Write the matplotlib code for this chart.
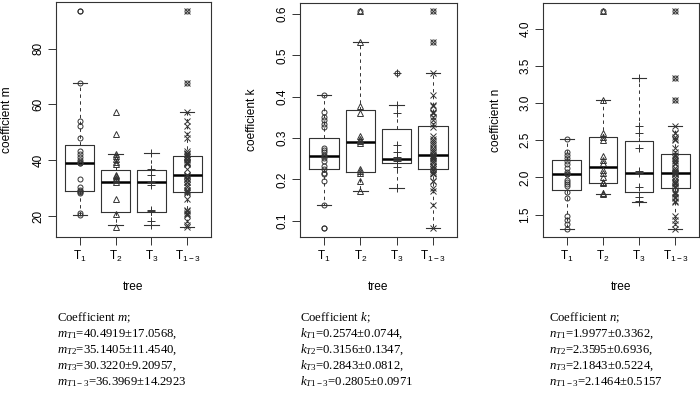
import numpy as np
import matplotlib
matplotlib.use('Agg')
import matplotlib.pyplot as plt

plt.rcParams['font.family'] = ['Liberation Sans', 'DejaVu Sans']
plt.rcParams['mathtext.fontset'] = 'custom'
plt.rcParams['mathtext.rm'] = 'Liberation Serif'
plt.rcParams['mathtext.it'] = 'Liberation Serif:italic'

# trees and their tick labels
tick_labels = [r'$\mathregular{T_1}$', r'$\mathregular{T_2}$', r'$\mathregular{T_3}$', r'$\mathregular{T_{1-3}}$']
sub_labels = [r'T\mathrm{1}', r'T\mathrm{2}', r'T\mathrm{3}', r'T\mathrm{1-3}']

# coefficient m, per tree (T1-3 is all three pooled)
m_T1 = [93.6, 67.6, 54.0, 52.2, 47.9, 43.3, 42.3, 41.3, 40.1, 39.2, 39.0, 38.9,
        33.3, 30.3, 29.2, 29.0, 28.7, 28.4, 21.0, 20.4]
m_T2 = [57.2, 49.5, 42.1, 41.5, 40.5, 39.5, 38.6, 34.7, 34.2, 33.8, 33.4, 32.3,
        26.2, 20.6, 16.2]
m_T3 = [42.5, 36.8, 34.7, 32.3, 31.1, 22.2, 21.7, 18.3, 16.9]
# box statistics as drawn
m_lo = [20.4, 16.6, 16.9, 16.0]
m_q1 = [29.1, 21.6, 21.6, 28.7]
m_med = [39.1, 32.3, 32.3, 34.7]
m_q3 = [45.3, 36.6, 36.6, 41.6]
m_hi = [67.6, 42.1, 42.5, 57.2]
m_out = [[93.6], [], [], [93.6, 67.6]]

# coefficient k
k_T1 = [0.405, 0.362, 0.352, 0.343, 0.334, 0.326, 0.275, 0.270, 0.265, 0.260,
        0.256, 0.252, 0.245, 0.233, 0.226, 0.216, 0.212, 0.196, 0.137, 0.082]
k_T2 = [0.608, 0.533, 0.378, 0.360, 0.305, 0.298, 0.292, 0.287, 0.224, 0.220,
        0.216, 0.196, 0.172]
k_T3 = [0.457, 0.379, 0.361, 0.283, 0.267, 0.255, 0.249, 0.245, 0.239, 0.231, 0.180]
k_lo = [0.137, 0.172, 0.180, 0.082]
k_q1 = [0.225, 0.2185, 0.239, 0.226]
k_med = [0.2565, 0.2906, 0.2485, 0.259]
k_q3 = [0.300, 0.367, 0.321, 0.329]
k_hi = [0.405, 0.533, 0.379, 0.457]
k_out = [[0.082], [0.608], [0.457], [0.608, 0.533]]

# coefficient n
n_T1 = [2.513, 2.347, 2.30, 2.26, 2.22, 2.18, 2.124, 2.08, 2.05, 2.045, 1.966,
        1.94, 1.91, 1.88, 1.809, 1.72, 1.483, 1.429, 1.37, 1.312]
n_T2 = [4.242, 3.042, 2.602, 2.55, 2.51, 2.289, 2.235, 2.19, 2.10, 2.06, 2.01,
        1.944, 1.92, 1.796, 1.775]
n_T3 = [3.341, 2.692, 2.602, 2.392, 2.091, 2.06, 1.876, 1.742, 1.684, 1.667]
n_lo = [1.312, 1.775, 1.667, 1.312]
n_q1 = [1.832, 1.922, 1.80, 1.863]
n_med = [2.047, 2.137, 2.065, 2.065]
n_q3 = [2.235, 2.548, 2.495, 2.312]
n_hi = [2.513, 3.042, 3.341, 2.696]
n_out = [[], [4.242], [], [4.242, 3.341, 3.042]]

# mean +- sd printed under each panel
m_mean = ['40.4919', '35.1405', '30.3220', '36.3969']
m_sd = ['17.0568', '11.4540', '9.20957', '14.2923']
k_mean = ['0.2574', '0.3156', '0.2843', '0.2805']
k_sd = ['0.0744', '0.1347', '0.0812', '0.0971']
n_mean = ['1.9977', '2.3595', '2.1843', '2.1464']
n_sd = ['0.3362', '0.6936', '0.5224', '0.5157']

dark = '#333333'
markers = [('o', 3.6), ('^', 4.5), ('+', 5.5), ('x', 3.8)]

W, H = 700.0, 397.0


def px_rect(x0, y0, x1, y1):
    return [x0 / W, 1 - y1 / H, (x1 - x0) / W, (y1 - y0) / H]


def draw_panel(ax, groups, lo, q1, med, q3, hi, out, ylim, ylabel, ylab_x):
    samples = groups + [sum(groups, [])]
    stats = []
    for i in range(4):
        stats.append(dict(whislo=lo[i], q1=q1[i], med=med[i], q3=q3[i],
                          whishi=hi[i], fliers=out[i]))
    ax.bxp(stats, positions=[1, 2, 3, 4], widths=0.8, capwidths=0.4,
           boxprops=dict(color=dark, lw=0.8),
           medianprops=dict(color='black', lw=1.8),
           whiskerprops=dict(color=dark, lw=0.7, ls=(0, (3.5, 3.5))),
           capprops=dict(color=dark, lw=0.8),
           flierprops=dict(marker='o', mfc='none', mec=dark, ms=3.6, mew=0.7))
    for i, vals in enumerate(samples):
        mk, ms = markers[i]
        ax.plot(np.full(len(vals), i + 1), vals, ls='none', marker=mk, ms=ms,
                mfc='none', mec=dark, mew=0.7, zorder=3)
    ax.set_xlim(0.34, 4.66)
    ax.set_ylim(*ylim)
    ax.set_xticks([1, 2, 3, 4])
    ax.set_xticklabels(tick_labels)
    ax.tick_params(length=5.5, width=0.7, color=dark, pad=3, labelsize=8.5)
    for sp in ax.spines.values():
        sp.set_color(dark)
        sp.set_linewidth(0.8)
    ax.set_ylabel(ylabel, fontsize=8.6, va='center')
    ax.yaxis.set_label_coords(ylab_x, 0.5)
    ax.set_xlabel('tree', fontsize=8.6, va='center')
    ax.xaxis.set_label_coords(0.5, -0.213)


def draw_text(x, sym, means, sds):
    ys = [321, 337, 353, 369, 385]
    fig.text(x / W, 1 - ys[0] / H, 'Coefficient $%s$;' % sym,
             family='Liberation Serif', size=9.2, va='baseline')
    for i in range(4):
        end = ',' if i < 3 else ''
        s = '$%s_{%s}$=%s\u00b1%s%s' % (sym, sub_labels[i], means[i], sds[i], end)
        fig.text(x / W, 1 - ys[i + 1] / H, s, family='Liberation Serif',
                 size=9.2, va='baseline')


fig = plt.figure(figsize=(7, 3.97), dpi=100)

ax1 = fig.add_axes(px_rect(56, 2, 211, 237))
draw_panel(ax1, [m_T1, m_T2, m_T3], m_lo, m_q1, m_med, m_q3, m_hi, m_out,
           (12.47, 96.76), 'coefficient m', -0.313)
ax1.set_yticks([20, 40, 60, 80])

ax2 = fig.add_axes(px_rect(300, 3, 457, 237))
draw_panel(ax2, [k_T1, k_T2, k_T3], k_lo, k_q1, k_med, k_q3, k_hi, k_out,
           (0.0606, 0.6266), 'coefficient k', -0.306)
ax2.set_yticks([0.1, 0.2, 0.3, 0.4, 0.5, 0.6])

ax3 = fig.add_axes(px_rect(543, 3, 699, 237))
draw_panel(ax3, [n_T1, n_T2, n_T3], n_lo, n_q1, n_med, n_q3, n_hi, n_out,
           (1.2, 4.345), 'coefficient n', -0.301)
ax3.set_yticks([1.5, 2.0, 2.5, 3.0, 3.5, 4.0])

for ax in (ax1, ax2, ax3):
    for lab in ax.get_yticklabels():
        lab.set_rotation(90)
        lab.set_va('center')

draw_text(57, 'm', m_mean, m_sd)
draw_text(300, 'k', k_mean, k_sd)
draw_text(549, 'n', n_mean, n_sd)

fig.savefig('out.png', dpi=100)
